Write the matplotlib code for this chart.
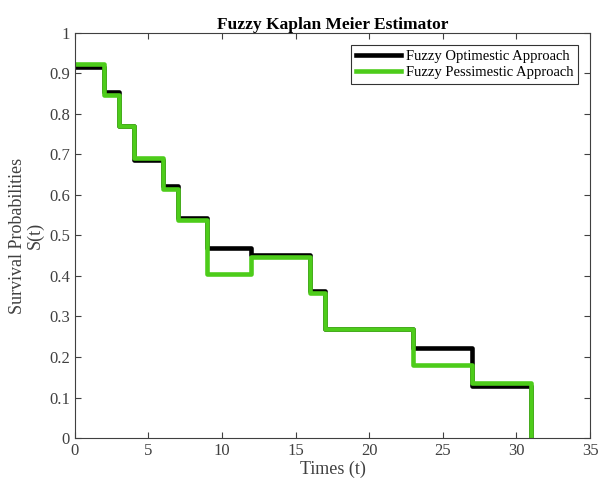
import matplotlib.pyplot as plt
import numpy as np

plt.rcParams['font.family'] = ['Liberation Serif', 'DejaVu Serif']

times = [0, 2, 3, 4, 6, 7, 9, 12, 16, 17, 23, 27, 31]
optimistic = [0.917, 0.853, 0.769, 0.686, 0.623, 0.544, 0.470, 0.453, 0.362, 0.270, 0.222, 0.128, 0]
pessimistic = [0.923, 0.846, 0.769, 0.692, 0.615, 0.538, 0.404, 0.448, 0.358, 0.270, 0.181, 0.137, 0]

axis_col = '#404040'

fig = plt.figure(figsize=(5.99, 4.84), dpi=100)
ax = fig.add_axes([0.125, 0.095, 0.86, 0.837])

ax.step(times, optimistic, where='post', color='black', lw=3.3, label='Fuzzy Optimestic Approach')
ax.step(times, pessimistic, where='post', color='#4dcc1a', lw=3.3, label='Fuzzy Pessimestic Approach')

ax.set_xlim(0, 35)
ax.set_ylim(0, 1)
ax.set_xticks(np.arange(0, 36, 5))
ax.set_yticks(np.arange(0, 1.01, 0.1))
ax.set_yticklabels(['0', '0.1', '0.2', '0.3', '0.4', '0.5', '0.6', '0.7', '0.8', '0.9', '1'])
ax.tick_params(direction='in', top=True, right=True, colors=axis_col, labelsize=12, length=4)
for s in ax.spines.values():
    s.set_color(axis_col)
    s.set_linewidth(0.8)

ax.set_title('Fuzzy Kaplan Meier Estimator', fontsize=12.5, fontweight='bold', pad=3)
ax.set_xlabel('Times (t)', fontsize=13, color=axis_col, labelpad=1)
ax.set_ylabel('Survival Probabilities\nS(t)', fontsize=13, color=axis_col, labelpad=4,
              linespacing=1.0, multialignment='center')

leg = ax.legend(loc='upper right', fontsize=10.5, frameon=True, fancybox=False, handlelength=3.1,
                handletextpad=0.3, borderpad=0.35, labelspacing=0.2, borderaxespad=0.8)
leg.get_frame().set_edgecolor('black')
leg.get_frame().set_linewidth(0.8)

fig.savefig('out.png', dpi=100)
